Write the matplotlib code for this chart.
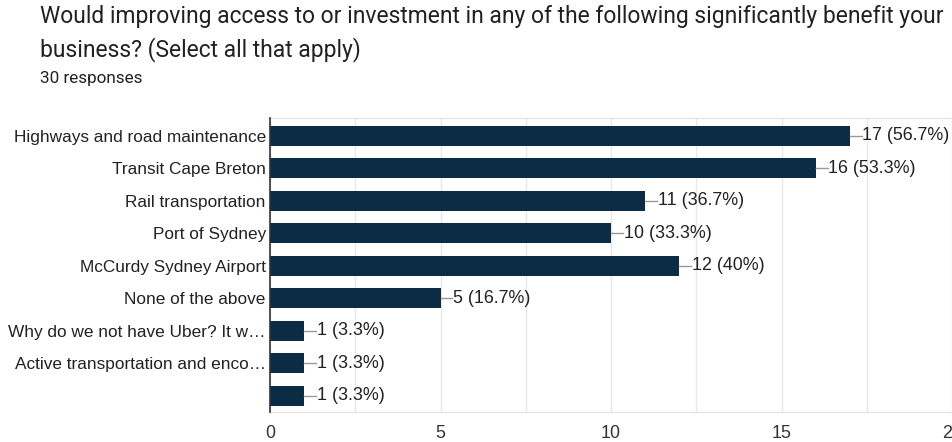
#!/usr/bin/env python3
"""Google Forms style horizontal bar chart: transportation investment question."""

import matplotlib
matplotlib.use("Agg")
import matplotlib.pyplot as plt

title = ("Would improving access to or investment in any of the following significantly benefit your\n"
         "business? (Select all that apply)")
subtitle = "30 responses"
total = 30

categories = [
    "Highways and road maintenance",
    "Transit Cape Breton",
    "Rail transportation",
    "Port of Sydney",
    "McCurdy Sydney Airport",
    "None of the above",
    "Why do we not have Uber? It w\u2026",
    "Active transportation and enco\u2026",
    "",
]
counts = [17, 16, 11, 10, 12, 5, 1, 1, 1]
xticks = [0, 5, 10, 15, 20]

BAR = "#0c2b45"
TEXT = "#222222"

plt.rcParams["font.family"] = ["Liberation Sans", "DejaVu Sans"]

fig = plt.figure(figsize=(9.52, 4.42), dpi=100)
ax = fig.add_axes([270 / 952, 1 - 412 / 442, 682 / 952, (412 - 118) / 442])

ypos = list(range(len(categories)))
ax.barh(ypos, counts, height=0.62, color=BAR, zorder=3)

# connector line + value label
for y, v in zip(ypos, counts):
    pct = round(v / total * 100, 1)
    ax.plot([v, v + 0.35], [y, y], color="#999999", lw=1, zorder=3)
    ax.text(v + 0.37, y, f"{v} ({pct:g}%)", va="center", ha="left",
            fontsize=12.9, color=TEXT)

ax.set_xlim(0, 20)
ax.set_ylim(len(categories) - 0.5, -0.55)
ax.set_yticks(ypos)
ax.set_yticklabels(categories, fontsize=12.4, color=TEXT)
ax.set_xticks(xticks)
ax.set_xticklabels([str(t) for t in xticks], fontsize=12.9, color="#333333")
ax.set_xticks([2.5, 7.5, 12.5, 17.5], minor=True)
ax.tick_params(axis="both", which="both", length=0)
ax.tick_params(axis="y", pad=3)
ax.tick_params(axis="x", pad=9)

ax.grid(axis="x", which="both", color="#e8e8e8", lw=1, zorder=0)
for side in ["top", "bottom"]:
    ax.spines[side].set_color("#e0e0e0")
ax.spines["right"].set_visible(False)
ax.spines["left"].set_color("#333333")
ax.spines["left"].set_linewidth(1.2)
ax.spines["left"].set_zorder(4)

fig.text(40 / 952, 1 - 5 / 442, title, fontsize=16.5, family=["Roboto", "DejaVu Sans"],
         color="#202124", va="top", ha="left", linespacing=1.45)
fig.text(40 / 952, 1 - 78 / 442, subtitle, fontsize=12.3, family=["Roboto", "DejaVu Sans"],
         color="#202124", va="center", ha="left")

fig.savefig("out.png", dpi=100)
